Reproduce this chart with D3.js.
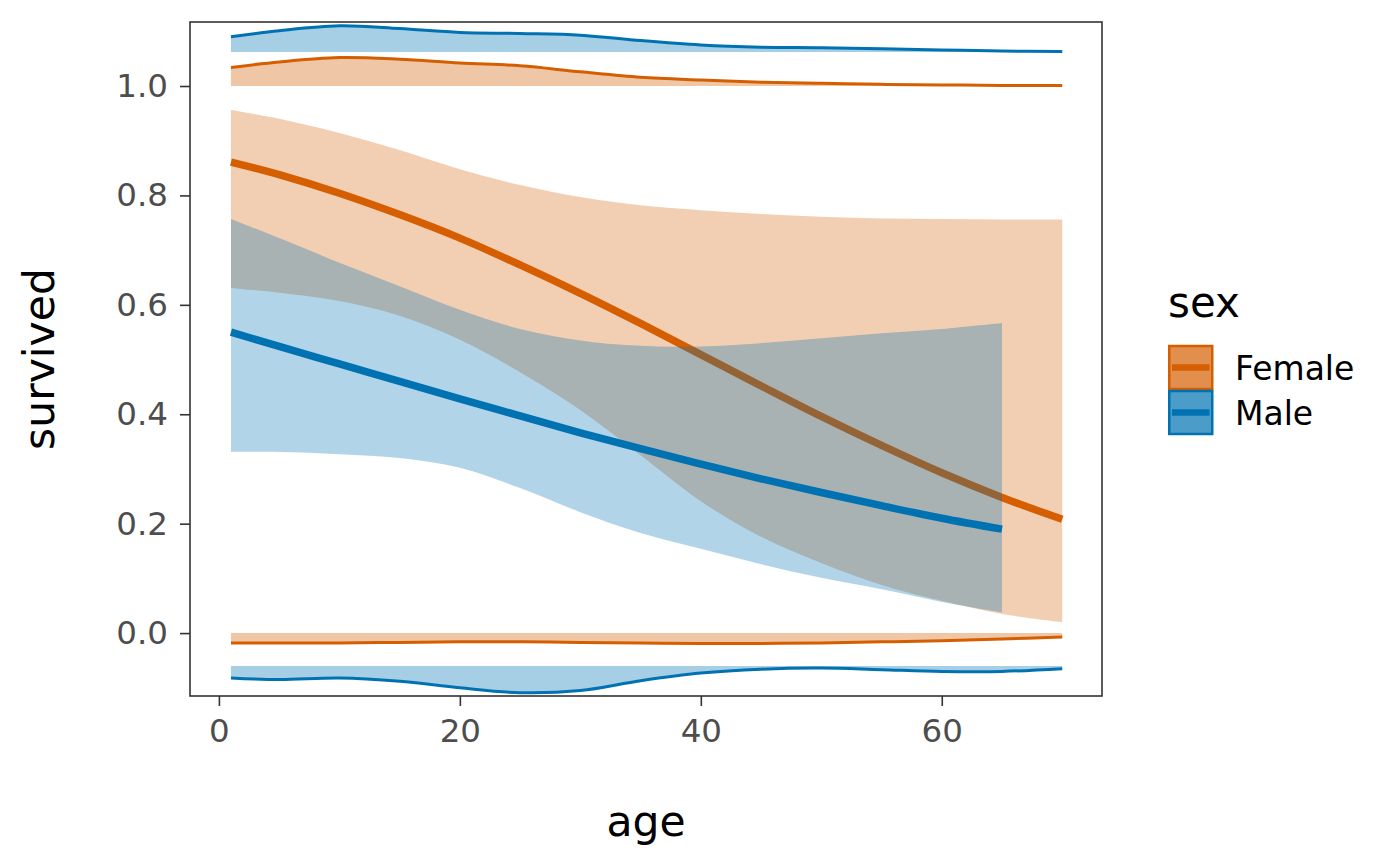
<!DOCTYPE html>
<html>
<head>
<meta charset="utf-8">
<script src="https://cdn.jsdelivr.net/npm/d3@7"></script>
<style>
  body { margin: 0; background: #fff; }
  svg { display: block; font-family: 'DejaVu Sans', sans-serif; }
</style>
</head>
<body>
<div id="chart"></div>
<script>
// age grid the fits were read at
const ages = [1, 5, 10, 15, 20, 25, 30, 35, 40, 45, 50, 55, 60, 65, 70]
const maleAges = [1, 5, 10, 15, 20, 25, 30, 35, 40, 45, 50, 55, 60, 65]

// logistic fits with confidence band
const femaleFit = [0.861, 0.838, 0.804, 0.765, 0.722, 0.673, 0.621, 0.566, 0.509, 0.452, 0.396, 0.343, 0.293, 0.248, 0.208]
const femaleLower = [0.631, 0.622, 0.607, 0.580, 0.536, 0.477, 0.408, 0.325, 0.241, 0.176, 0.128, 0.088, 0.059, 0.035, 0.020]
const femaleUpper = [0.956, 0.940, 0.914, 0.883, 0.848, 0.819, 0.797, 0.782, 0.773, 0.766, 0.761, 0.758, 0.757, 0.756, 0.756]
const maleFit = [0.550, 0.524, 0.492, 0.460, 0.428, 0.397, 0.366, 0.337, 0.309, 0.282, 0.257, 0.233, 0.210, 0.190]
const maleLower = [0.331, 0.331, 0.327, 0.320, 0.302, 0.265, 0.221, 0.183, 0.154, 0.126, 0.101, 0.080, 0.057, 0.038]
const maleUpper = [0.757, 0.722, 0.677, 0.634, 0.591, 0.556, 0.535, 0.525, 0.524, 0.530, 0.539, 0.548, 0.556, 0.567]

// marginal age densities, height in "survived" units
const femaleSurvivedDensity = [0.034, 0.044, 0.052, 0.049, 0.042, 0.037, 0.026, 0.016, 0.011, 0.007, 0.005, 0.003, 0.002, 0.001, 0.001]
const maleSurvivedDensity = [0.028, 0.039, 0.048, 0.043, 0.036, 0.034, 0.031, 0.021, 0.013, 0.009, 0.008, 0.006, 0.004, 0.002, 0.001]
const femaleDiedDensity = [0.018, 0.018, 0.018, 0.017, 0.016, 0.016, 0.017, 0.018, 0.019, 0.019, 0.018, 0.016, 0.014, 0.011, 0.007]
const maleDiedDensity = [0.022, 0.025, 0.022, 0.028, 0.040, 0.049, 0.045, 0.027, 0.013, 0.006, 0.004, 0.007, 0.010, 0.010, 0.005]

const xTicks = [0, 20, 40, 60]
const yTicks = [0, 0.2, 0.4, 0.6, 0.8, 1]
const groups = ['Female', 'Male']
const colors = { Female: '#D55E00', Male: '#0072B2' }

const width = 1400
const height = 866
const panel = { left: 190, right: 1102, top: 22, bottom: 696 }

const svg = d3.select('#chart')
  .append('svg')
  .attr('width', width)
  .attr('height', height)

const x = d3.scaleLinear().domain([-2.4, 73.3]).range([panel.left, panel.right])
const y = d3.scaleLinear().domain([-0.115, 1.117]).range([panel.bottom, panel.top])

const zip = (xs, ys) => xs.map((a, i) => ({ age: a, v: ys[i] }))
const curve = d3.curveCatmullRom.alpha(0.5)

const band = d3.area()
  .curve(curve)
  .x(d => x(d.age))
  .y0(d => y(d.lo))
  .y1(d => y(d.hi))

const line = d3.line()
  .curve(curve)
  .x(d => x(d.age))
  .y(d => y(d.v))

// density strips: base is where the strip sits, dir is up (+1) or down (-1)
const strips = [
  { key: 'Female', base: 1.0, dir: 1, h: femaleSurvivedDensity },
  { key: 'Male', base: 1.062, dir: 1, h: maleSurvivedDensity },
  { key: 'Female', base: 0, dir: -1, h: femaleDiedDensity },
  { key: 'Male', base: -0.06, dir: -1, h: maleDiedDensity }
]

strips.forEach(s => {
  const pts = ages.map((a, i) => ({ age: a, lo: s.base, hi: s.base + s.dir * s.h[i], v: s.base + s.dir * s.h[i] }))
  svg.append('path')
    .attr('d', band(pts))
    .attr('fill', colors[s.key])
    .attr('fill-opacity', 0.35)
  svg.append('path')
    .attr('d', line(pts))
    .attr('fill', 'none')
    .attr('stroke', colors[s.key])
    .attr('stroke-width', 3)
})

const fits = [
  { key: 'Female', ages: ages, fit: femaleFit, lo: femaleLower, hi: femaleUpper },
  { key: 'Male', ages: maleAges, fit: maleFit, lo: maleLower, hi: maleUpper }
]

fits.forEach(f => {
  const pts = f.ages.map((a, i) => ({ age: a, lo: f.lo[i], hi: f.hi[i] }))
  svg.append('path')
    .attr('d', band(pts))
    .attr('fill', colors[f.key])
    .attr('fill-opacity', 0.3)
  svg.append('path')
    .attr('d', line(zip(f.ages, f.fit)))
    .attr('fill', 'none')
    .attr('stroke', colors[f.key])
    .attr('stroke-width', 7.5)
})

// panel border
svg.append('rect')
  .attr('x', panel.left)
  .attr('y', panel.top)
  .attr('width', panel.right - panel.left)
  .attr('height', panel.bottom - panel.top)
  .attr('fill', 'none')
  .attr('stroke', '#333333')
  .attr('stroke-width', 1.6)

const styleAxis = g => {
  g.select('.domain').remove()
  g.attr('font-family', null).attr('font-size', null)
  g.selectAll('.tick line').attr('stroke', '#333333').attr('stroke-width', 1.6)
  g.selectAll('.tick text').attr('fill', '#4D4D4D').style('font-size', '32.5px')
}

svg.append('g')
  .attr('transform', `translate(${panel.left},0)`)
  .call(d3.axisLeft(y).tickValues(yTicks).tickFormat(d3.format('.1f')).tickSize(10).tickPadding(12))
  .call(styleAxis)

svg.append('g')
  .attr('transform', `translate(0,${panel.bottom})`)
  .call(d3.axisBottom(x).tickValues(xTicks).tickFormat(d3.format('d')).tickSize(10).tickPadding(13))
  .call(styleAxis)

// axis titles
svg.append('text')
  .attr('x', (panel.left + panel.right) / 2)
  .attr('y', 836)
  .attr('text-anchor', 'middle')
  .style('font-size', '42.5px')
  .text('age')

svg.append('text')
  .attr('transform', `translate(54,${(panel.top + panel.bottom) / 2}) rotate(-90)`)
  .attr('text-anchor', 'middle')
  .style('font-size', '42.5px')
  .text('survived')

// legend
const legend = svg.append('g').attr('transform', 'translate(1168,0)')

legend.append('text')
  .attr('x', 0)
  .attr('y', 317)
  .style('font-size', '42px')
  .text('sex')

const keySize = 43
groups.forEach((g, i) => {
  const top = 346 + i * 45
  legend.append('rect')
    .attr('x', 1.25)
    .attr('y', top)
    .attr('width', keySize)
    .attr('height', keySize)
    .attr('fill', colors[g])
    .attr('fill-opacity', 0.7)
    .attr('stroke', colors[g])
    .attr('stroke-width', 2.5)
  legend.append('line')
    .attr('x1', 4)
    .attr('x2', keySize - 1.5)
    .attr('y1', top + keySize / 2)
    .attr('y2', top + keySize / 2)
    .attr('stroke', colors[g])
    .attr('stroke-width', 6.5)
  legend.append('text')
    .attr('x', 67)
    .attr('y', top + keySize / 2 + 12)
    .style('font-size', '33px')
    .text(g)
})
</script>
</body>
</html>
